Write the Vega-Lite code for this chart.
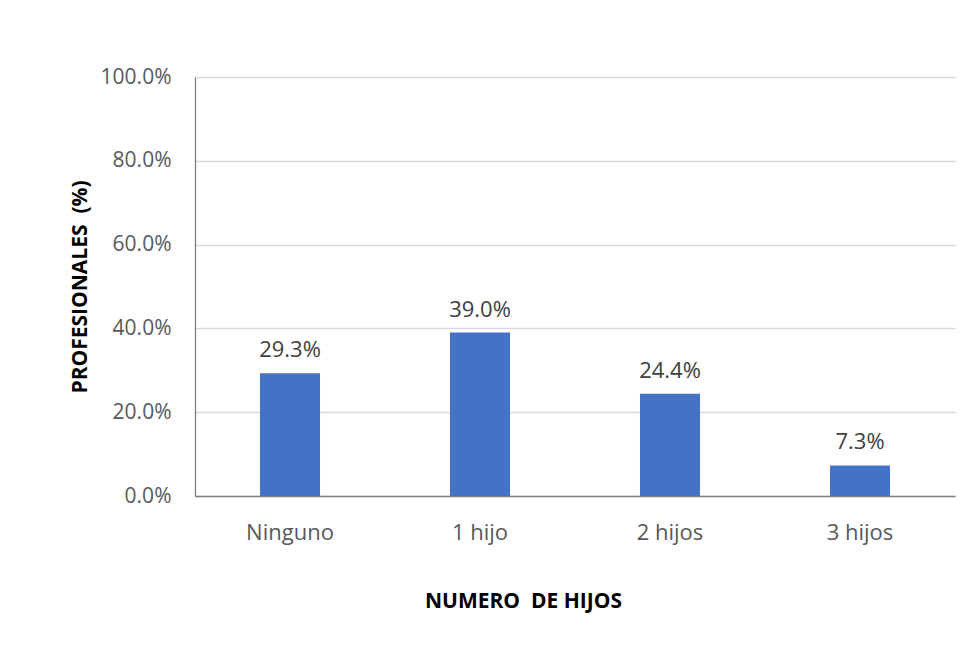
{
  "$schema": "https://vega.github.io/schema/vega-lite/v6.json",
  "autosize": "none",
  "width": 760,
  "height": 419,
  "padding": {"left": 195, "top": 77, "right": 16, "bottom": 152},
  "background": "white",
  "data": {
    "values": [
      {"hijos": "Ninguno", "pct": 0.293},
      {"hijos": "1 hijo", "pct": 0.390},
      {"hijos": "2 hijos", "pct": 0.244},
      {"hijos": "3 hijos", "pct": 0.073}
    ]
  },
  "encoding": {
    "x": {
      "field": "hijos",
      "type": "nominal",
      "sort": null,
      "scale": {"paddingInner": 0.684, "paddingOuter": 0.342},
      "axis": {
        "title": "NUMERO\u00a0\u00a0DE HIJOS",
        "labelAngle": 0,
        "labelFont": "Open Sans",
        "labelFontSize": 22,
        "labelColor": "#595959",
        "labelPadding": 26,
        "ticks": false,
        "domainColor": "#808080",
        "domainWidth": 1.5,
        "titleFont": "Open Sans",
        "titleFontSize": 21,
        "titleFontWeight": "bold",
        "titleColor": "#000000",
        "titleX": 328,
        "titleY": 111,
        "titleBaseline": "alphabetic",
        "grid": false
      }
    },
    "y": {
      "field": "pct",
      "type": "quantitative",
      "scale": {"domain": [0, 1], "nice": false},
      "axis": {
        "title": "PROFESIONALES\u00a0\u00a0(%)",
        "format": ".1%",
        "values": [0, 0.2, 0.4, 0.6, 0.8, 1],
        "labelFont": "Open Sans",
        "labelFontSize": 21,
        "labelColor": "#595959",
        "labelPadding": 24,
        "ticks": false,
        "domainColor": "#808080",
        "domainWidth": 1.3,
        "gridColor": "#d9d9d9",
        "gridWidth": 1.3,
        "titleFont": "Open Sans",
        "titleFontSize": 21,
        "titleFontWeight": "bold",
        "titleColor": "#000000",
        "titleX": -109,
        "titleBaseline": "alphabetic"
      }
    }
  },
  "layer": [
    {"mark": {"type": "bar", "color": "#4472C4"}},
    {
      "mark": {
        "type": "text",
        "font": "Open Sans",
        "fontSize": 22,
        "color": "#404040",
        "baseline": "alphabetic",
        "dy": -16
      },
      "encoding": {"text": {"field": "pct", "type": "quantitative", "format": ".1%"}}
    }
  ],
  "config": {"view": {"stroke": null}}
}
